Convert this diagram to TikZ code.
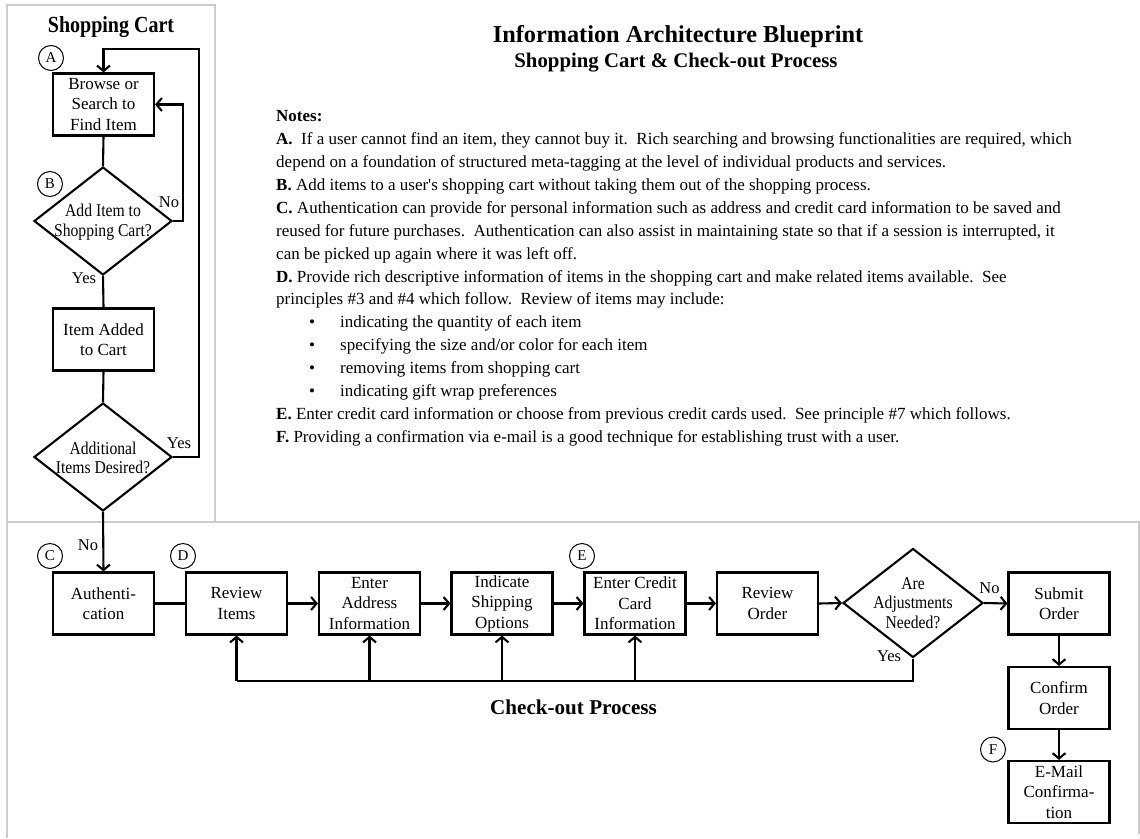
\documentclass[tikz,border=0pt]{standalone}
\usepackage{fontspec}
\setmainfont{Liberation Serif}
\newfontfamily\cfont{Liberation Serif}[FakeStretch=0.87]
\usetikzlibrary{arrows.meta,shapes.geometric}
\tikzset{
  panel/.style={draw=black!20, line width=2pt},
  conn/.style={line width=2.1pt},
  arr/.style={conn, -{Straight Barb[length=5.5pt,width=13pt]}},
  box/.style={draw, line width=2.1pt, rectangle, minimum width=101pt, minimum height=62pt, inner sep=0pt, align=center, font=\fontsize{17}{20.5}\selectfont},
  dia/.style={draw, line width=2.1pt, diamond, inner sep=0pt, minimum width=138pt, minimum height=108pt},
  dtext/.style={align=center, inner sep=0pt, font=\cfont\fontsize{18}{19.5}\selectfont},
  tag/.style={draw, circle, line width=1pt, minimum size=25pt, inner sep=0pt, font=\fontsize{15}{17}\selectfont},
  lbl/.style={inner sep=0pt, font=\fontsize{16.5}{19}\selectfont},
  notes/.style={align=left, inner sep=0pt, font=\fontsize{17}{22.9}\selectfont},
}
\begin{document}
\begin{tikzpicture}[x=1pt,y=-1pt]
\useasboundingbox (0,0) rectangle (1140,838);
% panels
\draw[panel] (7,838) -- (7,5) -- (215,5) -- (215,522);
\draw[panel] (7,522) -- (1139,522) -- (1139,834);

% titles
\node[anchor=base, inner sep=0pt, font=\bfseries\fontsize{24.3}{26}\selectfont] (title) at (678,42) {Information Architecture Blueprint};
\node[anchor=base, inner sep=0pt, font=\bfseries\fontsize{20.8}{23}\selectfont] (subtitle) at (676,67) {Shopping Cart \& Check-out Process};
\node[anchor=base, inner sep=0pt, font=\cfont\bfseries\fontsize{23}{25}\selectfont] (cartttl) at (111,32) {Shopping Cart};
\node[anchor=base west, inner sep=0pt, font=\bfseries\fontsize{21.1}{24}\selectfont] (cottl) at (490,714) {Check-out Process};

% notes
\node[notes, anchor=north west] (notes) at (276,105.5) {\strut\textbf{Notes:}\\
\textbf{A.}\ \ If a user cannot find an item, they cannot buy it.\ \ Rich searching and browsing functionalities are required, which\\
depend on a foundation of structured meta-tagging at the level of individual products and services.\\
\textbf{B.} Add items to a user\textquotesingle s shopping cart without taking them out of the shopping process.\\
\textbf{C.} Authentication can provide for personal information such as address and credit card information to be saved and\\
reused for future purchases.\ \ Authentication can also assist in maintaining state so that if a session is interrupted, it\\
can be picked up again where it was left off.\\
\textbf{D.} Provide rich descriptive information of items in the shopping cart and make related items available.\ \ See\\
principles \#3 and \#4 which follow.\ \ Review of items may include:\\
\hspace*{33pt}\makebox[31pt][l]{•}indicating the quantity of each item\\
\hspace*{33pt}\makebox[31pt][l]{•}specifying the size and/or color for each item\\
\hspace*{33pt}\makebox[31pt][l]{•}removing items from shopping cart\\
\hspace*{33pt}\makebox[31pt][l]{•}indicating gift wrap preferences\\
\textbf{E.} Enter credit card information or choose from previous credit cards used.\ \ See principle \#7 which follows.\\
\textbf{F.} Providing a confirmation via e-mail is a good technique for establishing trust with a user.};

% shopping cart flow
\node[box] (b1) at (103.5,104.5) {Browse or\\Search to\\Find Item};
\node[dia] (d1) at (103,221) {};
\node[dtext] (d1t) at (103,222) {Add Item to\\Shopping Cart?};
\node[box] (b2) at (103.5,339.5) {Item Added\\to Cart};
\node[dia] (d2) at (103,457) {};
\node[dtext] (d2t) at (103,458) {Additional\\Items Desired?};
\node[tag] (tA) at (51,58) {A};
\node[tag] (tB) at (50,184) {B};

\coordinate (loopin) at (183,221);
\coordinate (loopTR) at (199,49);
\draw[conn] (b1.south) -- (d1.north);
\draw[conn] (d1.south) -- (b2.north);
\draw[conn] (b2.south) -- (d2.north);
\draw[arr] (d1.east) -- (loopin) |- (b1.east);
\draw[arr] (d2.east) -| (loopTR) -| (b1.north);
\node[lbl] (no1) at (169,202) {No};
\node[lbl] (yes1) at (84,278) {Yes};
\node[lbl] (yes2) at (179,443) {Yes};

% check-out flow
\node[box] (auth) at (103.5,603.5) {Authenti-\\cation};
\node[box] (rev) at (236.5,603.5) {Review\\Items};
\node[box] (addr) at (369.5,603.5) {Enter\\Address\\Information};
\node[box] (ship) at (502,603.5) {Indicate\\Shipping\\Options};
\node[box] (cc) at (635,603.5) {Enter Credit\\Card\\Information};
\node[box] (ro) at (767.5,603.5) {Review\\Order};
\node[dia, minimum width=140pt, minimum height=109pt] (adj) at (913,603) {};
\node[dtext] (adjt) at (913,603) {Are\\Adjustments\\Needed?};
\node[box] (sub) at (1059,603.5) {Submit\\Order};
\node[box] (conf) at (1059,698) {Confirm\\Order};
\node[box] (mail) at (1059,792) {E-Mail\\Confirma-\\tion};
\node[tag] (tC) at (50,556) {C};
\node[tag] (tD) at (183,556) {D};
\node[tag] (tE) at (582,556) {E};
\node[tag] (tF) at (993,749.5) {F};

\draw[arr] (d2.south) -- (auth.north);
\node[lbl] (no2) at (88,545) {No};
\draw[conn] (auth.east) -- (rev.west);
\draw[arr] (rev.east) -- (addr.west);
\draw[arr] (addr.east) -- (ship.west);
\draw[arr] (ship.east) -- (cc.west);
\draw[arr] (cc.east) -- (ro.west);
\draw[arr] (ro.east) -- (adj.west);
\draw[arr] (adj.east) -- (sub.west);
\node[lbl] (no3) at (989.5,588) {No};
\draw[arr] (sub.south) -- (conf.north);
\draw[arr] (conf.south) -- (mail.north);

\coordinate (fbL) at (236.5,681);
\coordinate (fbM) at (369.5,681);
\draw[conn, line width=2.6pt] (adj.south) |- (fbM);
\draw[conn, line width=1.4pt] (fbM) -- (fbL);
\draw[arr] (fbL) -- (rev.south);
\draw[arr] (fbM) -- (addr.south);
\draw[arr] (ship.south |- fbL) -- (ship.south);
\draw[arr] (cc.south |- fbL) -- (cc.south);
\node[lbl] (yes3) at (889,656.5) {Yes};
\end{tikzpicture}
\end{document}
